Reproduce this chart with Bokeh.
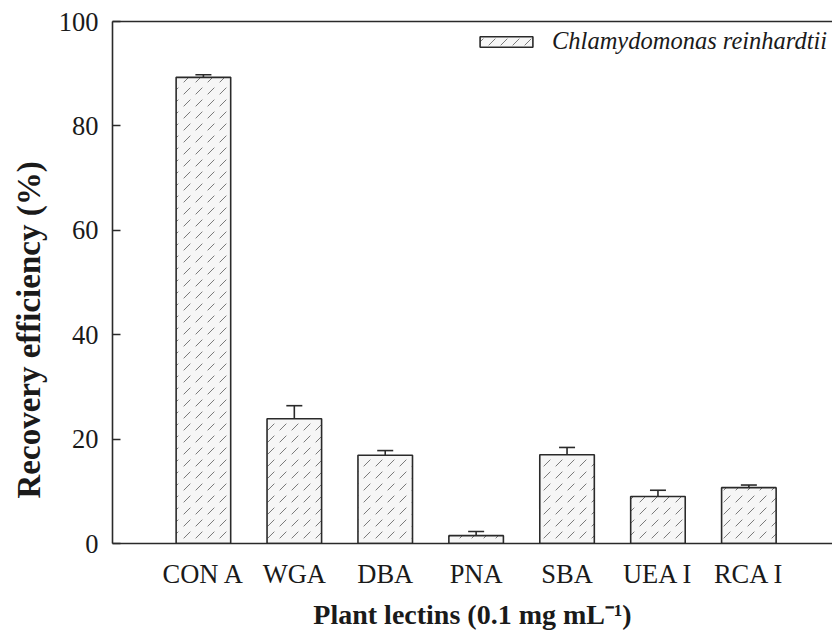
from bokeh.plotting import figure
from bokeh.models import (ColumnDataSource, Whisker, TeeHead, FixedTicker, Legend, LegendItem,
                          LinearAxis, Title, Range1d)
from bokeh.embed import file_html
from bokeh.resources import INLINE

lectins = ["CON A", "WGA", "DBA", "PNA", "SBA", "UEA I", "RCA I"]
recovery = [89.3, 23.9, 16.9, 1.5, 17.0, 9.0, 10.7]
errors = [0.5, 2.5, 0.9, 0.8, 1.4, 1.2, 0.5]
y_ticks = [0, 20, 40, 60, 80, 100]

xs = list(range(len(lectins)))
src = ColumnDataSource(dict(x=xs, top=recovery,
                            upper=[v + e for v, e in zip(recovery, errors)]))

FONT = "Liberation Serif"
INK = "#1a1a1a"
LINE = "#2a2a2a"

p = figure(width=832, height=643, frame_width=720, frame_height=522,
           min_border_left=112, min_border_right=0, min_border_top=21, min_border_bottom=100,
           x_range=Range1d(-1, 6.92), y_range=Range1d(0, 100),
           output_backend="svg", toolbar_location=None)
p.outline_line_color = None
p.grid.visible = False
p.background_fill_color = "white"

bars = p.vbar(x="x", top="top", width=0.6, source=src,
              fill_color="#f6f6f6", line_color=LINE, line_width=1.6,
              hatch_pattern=",", hatch_color="#444444", hatch_scale=12, hatch_weight=1.0,
              hatch_alpha=0.7)

wh = Whisker(base="x", lower="top", upper="upper", source=src,
             line_color=LINE, line_width=1.6,
             upper_head=TeeHead(size=16, line_color=LINE, line_width=1.6),
             lower_head=None)
p.add_layout(wh)

# axes
p.xaxis.ticker = FixedTicker(ticks=xs)
p.xaxis.major_label_overrides = {i: l for i, l in enumerate(lectins)}
p.xaxis.major_label_standoff = 9
p.yaxis.ticker = FixedTicker(ticks=y_ticks)
p.yaxis.major_tick_in = 8
p.yaxis.major_tick_out = 0
p.yaxis.major_label_standoff = 14
for ax in (p.xaxis[0], p.yaxis[0]):
    ax.axis_line_color = LINE
    ax.axis_line_width = 1.6
    ax.minor_tick_line_color = None
    ax.major_tick_line_width = 1.6
    ax.major_label_text_font = FONT
    ax.major_label_text_font_size = "26.5px"
    ax.major_label_text_color = INK
p.yaxis.major_tick_line_color = LINE
p.xaxis.major_tick_line_color = None

top_axis = LinearAxis(major_tick_line_color=None, minor_tick_line_color=None,
                      major_label_text_font_size="0px", axis_line_color=LINE,
                      axis_line_width=1.6, major_label_standoff=0)
p.add_layout(top_axis, "above")

# axis titles
p.add_layout(Title(text="Recovery efficiency (%)", align="left", offset=45, standoff=14,
                   vertical_align="top",
                   text_font=FONT, text_font_style="bold", text_font_size="33px",
                   text_color=INK), "left")
p.add_layout(Title(text="Plant lectins (0.1 mg mL\u207b\u00b9)", align="center", offset=3,
                   standoff=10, text_font=FONT, text_font_style="bold",
                   text_font_size="28px", text_color=INK), "below")

legend = Legend(items=[LegendItem(label="Chlamydomonas reinhardtii", renderers=[bars])],
                location=(361, 488), padding=0, margin=0, spacing=0,
                glyph_width=66, glyph_height=13, label_standoff=13,
                label_text_font=FONT, label_text_font_style="italic",
                label_text_font_size="24.5px", label_text_color=INK,
                border_line_color=None, background_fill_alpha=0)
p.add_layout(legend)

open("out.html", "w").write(file_html(p, INLINE))
